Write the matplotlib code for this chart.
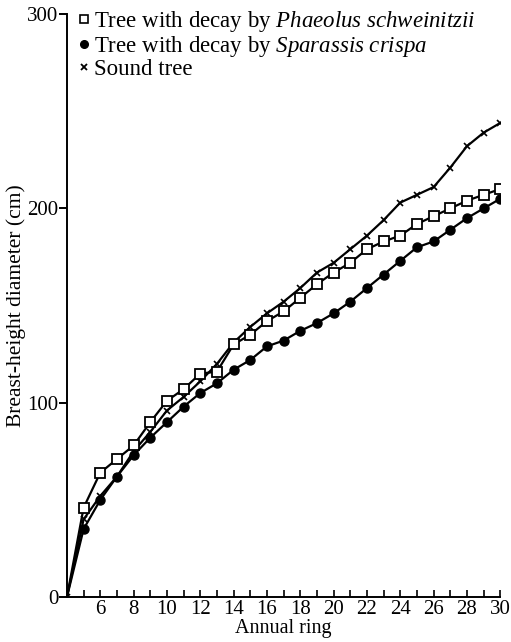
import matplotlib
matplotlib.use("Agg")
import matplotlib.pyplot as plt
from matplotlib.lines import Line2D
import numpy as np

plt.rcParams["font.family"] = ["Liberation Serif", "DejaVu Serif"]
plt.rcParams["mathtext.fontset"] = "custom"
plt.rcParams["mathtext.rm"] = "Liberation Serif"
plt.rcParams["mathtext.it"] = "Liberation Serif:italic"

rings = list(range(4, 31))
phaeolus = [0, 46, 64, 71, 78, 90, 101, 107, 115, 116, 130, 135, 142, 147, 154,
            161, 167, 172, 179, 183, 186, 192, 196, 200, 204, 207, 210]
sparassis = [0, 35, 50, 62, 73, 82, 90, 98, 105, 110, 117, 122, 129, 132, 137,
             141, 146, 152, 159, 166, 173, 180, 183, 189, 195, 200, 205]
sound = [0, 40, 52, 62, 75, 85, 96, 103, 111, 120, 131, 139, 146, 152, 159,
         167, 172, 179, 186, 194, 203, 207, 211, 221, 232, 239, 244]

labels = ["Tree with decay by $\\it{Phaeolus\\ schweinitzii}$",
          "Tree with decay by $\\it{Sparassis\\ crispa}$",
          "Sound tree"]

fig = plt.figure(figsize=(5.11, 6.42), dpi=100)
ax = fig.add_axes([0.131, 0.070, 0.848, 0.908])

ax.plot(rings, sound, color="black", lw=1.6, marker="x", ms=5, mew=1.2, zorder=2)
ax.plot(rings, sparassis, color="black", lw=1.6, marker="o", ms=6.5,
        markevery=list(range(1, len(rings))), zorder=3)
ax.plot(rings, phaeolus, color="black", lw=1.6, marker="s", ms=6.5, mfc="white",
        mew=1.3, markevery=list(range(1, len(rings))), zorder=4)

ax.set_xlim(4, 30)
ax.set_ylim(0, 300)
for side in ["top", "right"]:
    ax.spines[side].set_visible(False)
ax.spines["left"].set_linewidth(1.4)
ax.spines["bottom"].set_linewidth(1.4)

ax.set_xticks(np.arange(6, 31, 2))
ax.set_xticks(np.arange(5, 31, 1), minor=True)
ax.tick_params(axis="x", which="both", direction="in", length=5, width=1.2,
               labelsize=15, pad=2)
ax.set_yticks([0, 100, 200, 300])
ax.tick_params(axis="y", direction="out", length=6, width=1.4, labelsize=15, pad=0)

ax.set_xlabel("Annual ring", fontsize=14.5, labelpad=0)
ax.set_ylabel("Breast-height diameter (cm)", fontsize=15.5, labelpad=1)

handles = [
    Line2D([], [], ls="none", marker="s", ms=5.5, mfc="white", mec="black", mew=1.2),
    Line2D([], [], ls="none", marker="o", ms=5.5, color="black"),
    Line2D([], [], ls="none", marker="x", ms=5, mew=1.3, color="black"),
]
ax.legend(handles, labels, loc="upper left", bbox_to_anchor=(-0.012, 1.036),
          frameon=False, fontsize=16.5, handlelength=0.5, handletextpad=0.2,
          labelspacing=0.0, borderaxespad=0.3)

fig.savefig("out.png", dpi=100)
